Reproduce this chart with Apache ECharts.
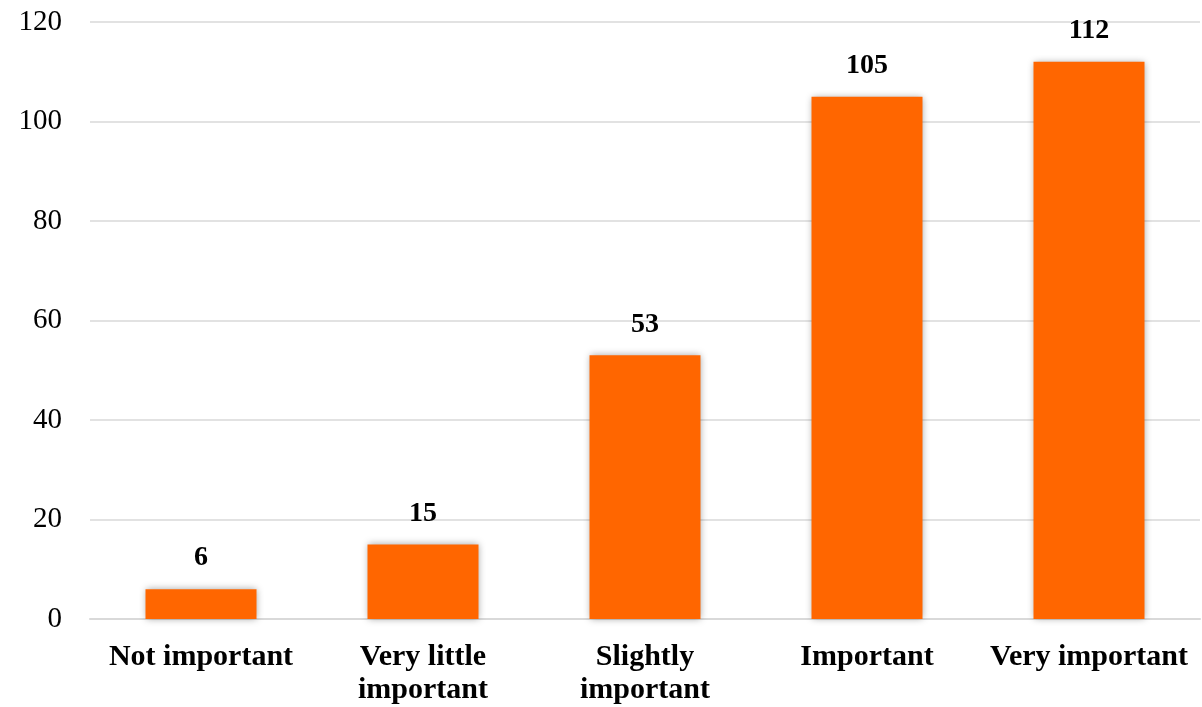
<!DOCTYPE html>
<html><head><meta charset="utf-8">
<script src="https://cdn.jsdelivr.net/npm/echarts@6/dist/echarts.min.js"></script>
<style>html,body{margin:0;padding:0;background:#fff}#c{width:1202px;height:707px}</style>
</head><body><div id="c"></div>
<script>
const categories = ['Not important', 'Very little\nimportant', 'Slightly\nimportant', 'Important', 'Very important'];
const values = [6, 15, 53, 105, 112];
const yTicks = {min: 0, max: 120, interval: 20};

const chart = echarts.init(document.getElementById('c'));
chart.setOption({
  animation: false,
  grid: {left: 90, right: 2, top: 22, bottom: 88, containLabel: false},
  xAxis: {
    type: 'category', data: categories,
    axisLine: {lineStyle: {color: '#d9d9d9', width: 2}},
    axisTick: {show: false},
    axisLabel: {fontFamily: 'Liberation Serif', fontWeight: 'bold', fontSize: 30, color: '#000', margin: 22, lineHeight: 33, interval: 0}
  },
  yAxis: {
    type: 'value', min: yTicks.min, max: yTicks.max, interval: yTicks.interval,
    axisLine: {show: false}, axisTick: {show: false},
    splitLine: {lineStyle: {color: '#d9d9d9', width: 1.5}},
    axisLabel: {fontFamily: 'Liberation Serif', fontSize: 29, color: '#000', margin: 28}
  },
  series: [{
    type: 'bar', data: values, barWidth: '50%',
    itemStyle: {color: '#FF6600', shadowColor: 'rgba(0,0,0,0.35)', shadowBlur: 7, shadowOffsetX: 0, shadowOffsetY: 0},
    label: {show: true, position: 'top', distance: 17, fontFamily: 'Liberation Serif', fontWeight: 'bold', fontSize: 28, color: '#000'}
  }]
});
</script></body></html>
